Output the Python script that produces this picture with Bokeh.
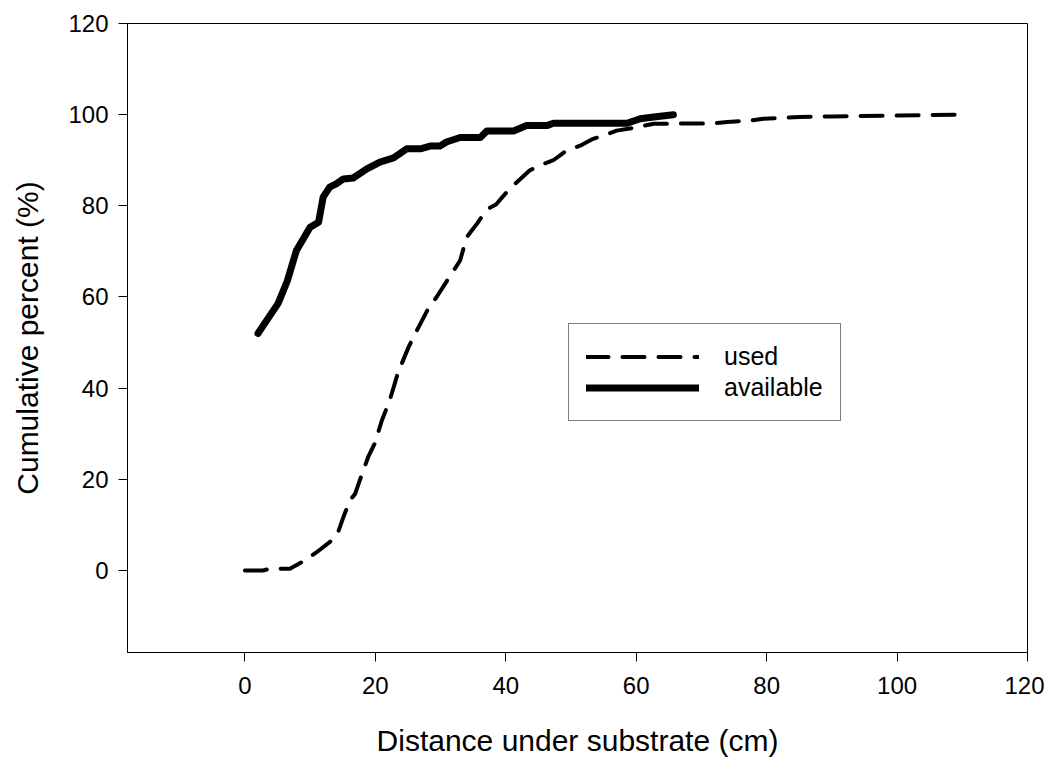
from bokeh.plotting import figure
from bokeh.models import Range1d, FixedTicker, Legend, LegendItem
from bokeh.embed import file_html
from bokeh.resources import INLINE

# Data
used_x = [0, 2.8, 3.8, 6.9, 9.2, 11, 13, 14.2, 15.1, 16.1, 16.9, 17.6, 18.9, 19.9, 21, 22.2,
          23.5, 25.1, 26.1, 28.1, 29.4, 31.7, 33, 34, 35.6, 37.1, 38.5, 40.5, 41.4, 43.7,
          45.8, 47.3, 49.3, 51.4, 53.4, 55, 57, 59.6, 62.7, 72, 74, 77.5, 79.5, 85, 90, 100, 110]
used_y = [0, 0, 0.4, 0.4, 2.2, 4, 6.2, 8, 11.7, 15.4, 16.8, 19.7, 24.9, 27.8, 32.9, 37.3,
          43.5, 49, 51.9, 57.4, 60, 65.1, 68, 73.1, 76.1, 79.2, 80.3, 83.6, 84.8, 87.8,
          89.2, 90, 92.1, 93.2, 94.7, 95.4, 96.5, 97.1, 98, 98.1, 98.4, 98.7, 99.1, 99.5, 99.6, 99.8, 100]

avail_x = [2, 3.5, 5.1, 6.5, 7.9, 10, 11.3, 12, 13, 14, 15.1, 16.6, 18.7, 20.7, 22.8, 24.8, 26.9, 28.4,
           29.9, 30.9, 33, 36.1, 37.1, 41.2, 43.2, 46.3, 47.3, 58.6, 60.6, 62.7, 65.7]
avail_y = [52, 55.2, 58.6, 63.5, 70.2, 75.3, 76.4, 81.9, 84.1, 84.8, 85.9, 86.1, 88.1, 89.6, 90.5, 92.5,
           92.5, 93.1, 93.1, 94, 95, 95, 96.4, 96.4, 97.6, 97.6, 98.1, 98.1, 99.1, 99.5, 100]

x_ticks = [0, 20, 40, 60, 80, 100, 120]
y_ticks = [0, 20, 40, 60, 80, 100, 120]

FONT = "Liberation Sans"

p = figure(frame_width=900, frame_height=629, output_backend="svg", toolbar_location=None,
           x_range=Range1d(-18, 120), y_range=Range1d(-18, 120),
           min_border_left=127, min_border_top=23, min_border_right=17, min_border_bottom=100)

p.background_fill_color = "white"
p.border_fill_color = "white"
p.outline_line_color = "black"
p.outline_line_width = 1
p.xgrid.visible = False
p.ygrid.visible = False

for ax in (p.xaxis[0], p.yaxis[0]):
    ax.major_tick_out = 9
    ax.major_tick_in = 0
    ax.minor_tick_out = 0
    ax.minor_tick_in = 0
    ax.axis_line_color = "black"
    ax.major_tick_line_color = "black"
    ax.major_label_text_font = FONT
    ax.major_label_text_font_size = "24px"
    ax.major_label_text_color = "black"
    ax.axis_label_text_font = FONT
    ax.axis_label_text_font_size = "30px"
    ax.axis_label_text_font_style = "normal"
    ax.axis_label_text_color = "black"

p.xaxis.ticker = FixedTicker(ticks=x_ticks)
p.yaxis.ticker = FixedTicker(ticks=y_ticks)
p.xaxis.axis_label = "Distance under substrate (cm)"
p.yaxis.axis_label = "Cumulative percent (%)"
p.xaxis.major_label_standoff = 15
p.yaxis.major_label_standoff = 10
p.xaxis.axis_label_standoff = 27
p.yaxis.axis_label_standoff = 21

r_used = p.line(used_x, used_y, line_color="black", line_width=4, line_dash="22 14",
                line_cap="round", line_join="round")
r_avail = p.line(avail_x, avail_y, line_color="black", line_width=7,
                 line_cap="round", line_join="round")

legend = Legend(items=[LegendItem(label="used", renderers=[r_used]),
                       LegendItem(label="available", renderers=[r_avail])],
                location=(441, 231))
legend.glyph_width = 113
legend.glyph_height = 31
legend.label_height = 31
legend.label_standoff = 25
legend.spacing = 0
legend.padding = 17
legend.margin = 0
legend.border_line_color = "black"
legend.border_line_width = 1
legend.background_fill_alpha = 1
legend.label_text_font = FONT
legend.label_text_font_size = "25px"
legend.label_text_color = "black"
p.add_layout(legend)

open("out.html", "w").write(file_html(p, INLINE))
